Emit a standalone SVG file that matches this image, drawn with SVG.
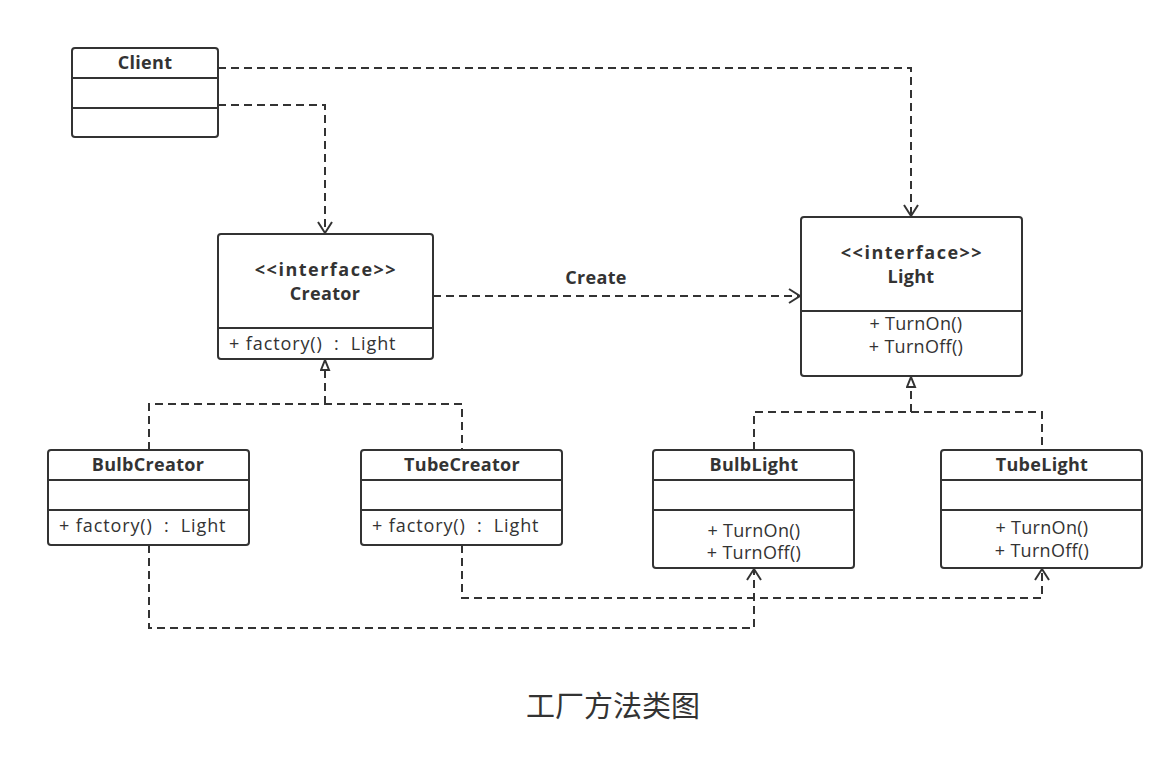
<svg xmlns="http://www.w3.org/2000/svg" width="1174" height="769" viewBox="0 0 1174 769">
<style>
.box{fill:#fff;stroke:#333;stroke-width:2}
.div{stroke:#333;stroke-width:2;fill:none}
.t{font-family:"Open Sans","Noto Sans CJK SC",sans-serif;font-size:18px;fill:#333;white-space:pre;letter-spacing:0.3px}
.b{font-weight:bold}
.m{text-anchor:middle}
.ls{letter-spacing:1.5px}
.f{letter-spacing:0.9px}
.dash{fill:none;stroke:#333;stroke-width:2;stroke-dasharray:8 5}
.title{font-family:"Noto Sans CJK SC",sans-serif;font-size:29px;fill:#333;text-anchor:middle}
</style>
<defs>
<marker id="open" markerWidth="14" markerHeight="16" refX="12" refY="8" orient="auto" markerUnits="userSpaceOnUse">
<path d="M1,1 L12,8 L1,15" fill="none" stroke="#333" stroke-width="2"/>
</marker>
<marker id="tri" markerWidth="12" markerHeight="14" refX="11" refY="5" orient="auto" markerUnits="userSpaceOnUse">
<path d="M1,1 L11,5 L1,9 Z" fill="#fff" stroke="#333" stroke-width="2"/>
</marker>
</defs>
<rect width="1174" height="769" fill="#fff"/>
<g id="connectors">
<path class="dash" d="M218,68 H911 V216" marker-end="url(#open)"/>
<path class="dash" d="M218,105 H325 V233" marker-end="url(#open)"/>
<path class="dash" d="M433,296 H800" marker-end="url(#open)"/>
<text class="t b m" x="596" y="284">Create</text>
<path class="dash" d="M149,450 V404 H462 V450"/>
<path class="dash" d="M325,404 V360" marker-end="url(#tri)"/>
<path class="dash" d="M754,450 V412 H1042 V450"/>
<path class="dash" d="M911,412 V377" marker-end="url(#tri)"/>
<path class="dash" d="M149,545 V628 H754 V569" marker-end="url(#open)"/>
<path class="dash" d="M462,545 V598 H1042 V569" marker-end="url(#open)"/>
</g>
<g id="Client">
<rect class="box" x="72" y="48" width="146" height="89" rx="3"/>
<path class="div" d="M72,78 H218 M72,108 H218"/>
<text class="t b m" x="145" y="69">Client</text>
</g>
<g id="Creator">
<rect class="box" x="218" y="234" width="215" height="125" rx="3"/>
<path class="div" d="M218,328 H433"/>
<text class="t b m ls" x="326" y="276">&lt;&lt;interface&gt;&gt;</text>
<text class="t b m" x="325" y="300">Creator</text>
<text class="t f" x="229" y="350">+ factory()  :  Light</text>
</g>
<g id="Light">
<rect class="box" x="801" y="217" width="221" height="159" rx="3"/>
<path class="div" d="M801,311 H1022"/>
<text class="t b m ls" x="912" y="259">&lt;&lt;interface&gt;&gt;</text>
<text class="t b m" x="911" y="283">Light</text>
<text class="t m" x="916" y="330">+ TurnOn()</text>
<text class="t m" x="916" y="353">+ TurnOff()</text>
</g>
<g id="BulbCreator">
<rect class="box" x="48" y="450" width="201" height="95" rx="3"/>
<path class="div" d="M48,480 H249 M48,510 H249"/>
<text class="t b m" x="148" y="471">BulbCreator</text>
<text class="t f" x="59" y="532">+ factory()  :  Light</text>
</g>
<g id="TubeCreator">
<rect class="box" x="361" y="450" width="201" height="95" rx="3"/>
<path class="div" d="M361,480 H562 M361,510 H562"/>
<text class="t b m" x="462" y="471">TubeCreator</text>
<text class="t f" x="372" y="532">+ factory()  :  Light</text>
</g>
<g id="BulbLight">
<rect class="box" x="653" y="450" width="201" height="118" rx="3"/>
<path class="div" d="M653,480 H854 M653,510 H854"/>
<text class="t b m" x="754" y="471">BulbLight</text>
<text class="t m" x="754" y="537">+ TurnOn()</text>
<text class="t m" x="754" y="559">+ TurnOff()</text>
</g>
<g id="TubeLight">
<rect class="box" x="941" y="450" width="201" height="118" rx="3"/>
<path class="div" d="M941,480 H1142 M941,510 H1142"/>
<text class="t b m" x="1042" y="471">TubeLight</text>
<text class="t m" x="1042" y="534">+ TurnOn()</text>
<text class="t m" x="1042" y="557">+ TurnOff()</text>
</g>
<text class="title" x="613" y="717">工厂方法类图</text>
</svg>
